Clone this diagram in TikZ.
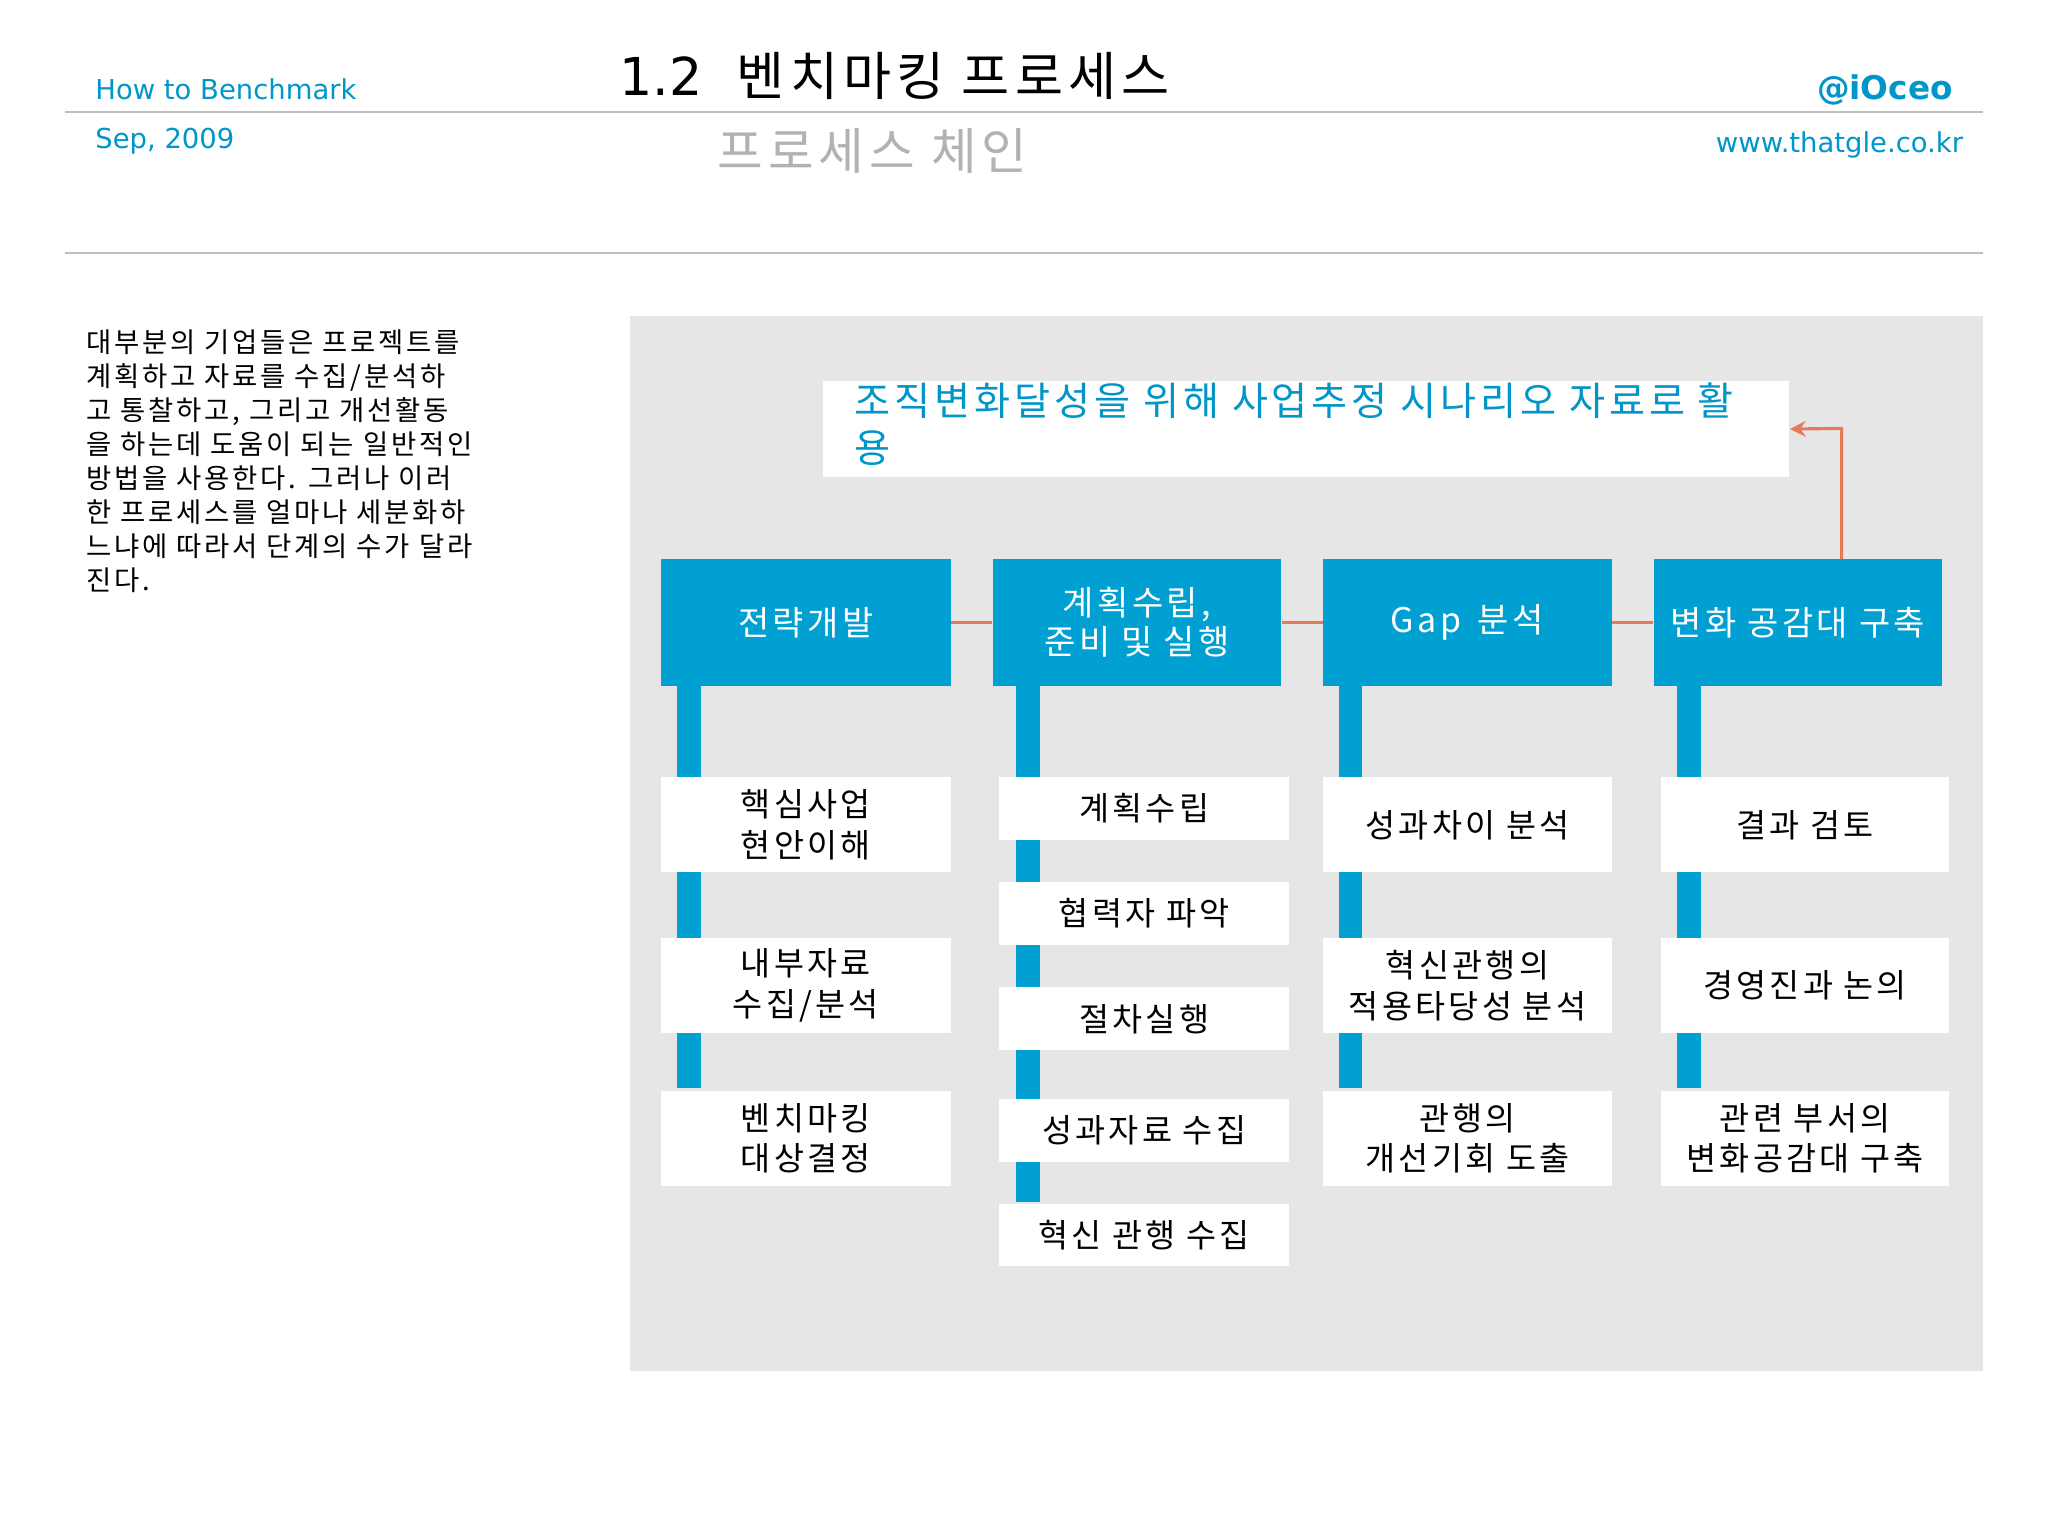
\documentclass[tikz,border=0pt]{standalone}
\usepackage{fontspec}
\setmainfont{Noto Sans CJK KR}
\newfontfamily\lat{DejaVu Sans}
\newfontfamily\wide[LetterSpace=10]{Noto Sans CJK KR}
\usetikzlibrary{arrows.meta}
\definecolor{hblue}{RGB}{0,150,200}
\definecolor{bblue}{RGB}{0,160,210}
\definecolor{panel}{RGB}{231,230,230}
\definecolor{org}{RGB}{232,120,90}
\tikzset{
 head/.style={fill=bblue,text=white,font=\wide\fontsize{13}{15}\selectfont,align=center,inner sep=0},
 sub/.style={fill=white,text=black,font=\wide\fontsize{12.5}{15.5}\selectfont,align=center,inner sep=0},
 bar/.style={fill=bblue},
 link/.style={draw=org,line width=1.2pt}
}
\begin{document}
\begin{tikzpicture}[x=0.5pt,y=-0.5pt]
\useasboundingbox (0,0) rectangle (1568,1176);
\fill[white] (0,0) rectangle (1568,1176);
% header
\node[anchor=base west,text=hblue,font=\lat\fontsize{10.5}{13}\selectfont] (h1) at (66,76) {How to Benchmark};
\node[anchor=base west,text=hblue,font=\lat\fontsize{10.5}{13}\selectfont] (h2) at (66,114) {Sep, 2009};
\node[anchor=base,font=\fontsize{20}{24}\selectfont] (t) at (685,73) {\lat 1.2\,\, \wide 벤치마킹 프로세스};
\node[anchor=base,text=black!30,font=\wide\fontsize{19}{23}\selectfont] (st) at (668,130) {프로세스 체인};
\node[anchor=base east,text=hblue,font=\lat\bfseries\fontsize{12.5}{15}\selectfont] (at) at (1502,76) {@iOceo};
\node[anchor=base east,text=hblue,font=\lat\fontsize{10.5}{13}\selectfont] (w) at (1510,117) {www.thatgle.co.kr};
\draw[black!25,line width=0.8pt] (50,86) -- (1518,86);
\draw[black!25,line width=0.8pt] (50,194) -- (1518,194);
% paragraph
\node[anchor=north west,align=left,inner sep=0,font=\wide\fontsize{10.5}{13}\selectfont] (p) at (66,252) {대부분의 기업들은 프로젝트를\\계획하고 자료를 수집/분석하\\고 통찰하고, 그리고 개선활동\\을 하는데 도움이 되는 일반적인\\방법을 사용한다. 그러나 이러\\한 프로세스를 얼마나 세분화하\\느냐에 따라서 단계의 수가 달라\\진다.};
% panel
\fill[panel] (482,242) rectangle (1518,1050);
\node[fill=white,minimum width=370pt,minimum height=36.5pt,inner sep=0] (goal) at (1000,328.5) {};
\node[anchor=north west,text=hblue,align=left,inner sep=0,font=\wide\fontsize{15}{18}\selectfont] at (654,293) {조직변화달성을 위해 사업추정 시나리오 자료로 활\\용};
% bars
\fill[bar] (518,525) rectangle (537,833);
\fill[bar] (778,525) rectangle (796,920);
\fill[bar] (1025,525) rectangle (1043,833);
\fill[bar] (1284,525) rectangle (1302,833);
% heads
\node[head,minimum width=111pt,minimum height=48.5pt] (a) at (617,476.5) {전략개발};
\node[head,minimum width=110.5pt,minimum height=48.5pt] (b) at (870.5,476.5) {계획수립,\\준비 및 실행};
\node[head,minimum width=110.5pt,minimum height=48.5pt] (c) at (1123.5,476.5) {Gap\, 분석};
\node[head,minimum width=110.5pt,minimum height=48.5pt] (d) at (1376.5,476.5) {변화 공감대 구축};
\draw[link] (a.east) -- (b.west);
\draw[link] (b.east) -- (c.west);
\draw[link] (c.east) -- (d.west);
\coordinate (k) at (1410,328);
\draw[link,-{Stealth[length=6pt,width=6pt]}] (1410,428) -- (k) -- (goal.east);
% column 1
\tikzset{c1/.style={sub,minimum width=111pt,minimum height=36.5pt}}
\node[c1] (a1) at (617,631.5) {핵심사업\\현안이해};
\node[c1] (a2) at (617,754.5) {내부자료\\수집/분석};
\node[c1] (a3) at (617,871.5) {벤치마킹\\대상결정};
% column 2
\tikzset{c2/.style={sub,minimum width=111pt,minimum height=24pt}}
\node[c2] (b1) at (876,619) {계획수립};
\node[c2] (b2) at (876,699.5) {협력자 파악};
\node[c2] (b3) at (876,780) {절차실행};
\node[c2] (b4) at (876,865.5) {성과자료 수집};
\node[c2] (b5) at (876,945.5) {혁신 관행 수집};
% column 3
\tikzset{c3/.style={sub,minimum width=110.5pt,minimum height=36.5pt}}
\node[c3] (c1) at (1123.5,631.5) {성과차이 분석};
\node[c3] (c2) at (1123.5,754.5) {혁신관행의\\적용타당성 분석};
\node[c3] (c3) at (1123.5,871.5) {관행의\\개선기회 도출};
% column 4
\node[c3] (d1) at (1382,631.5) {결과 검토};
\node[c3] (d2) at (1382,754.5) {경영진과 논의};
\node[c3] (d3) at (1382,871.5) {관련 부서의\\변화공감대 구축};
\end{tikzpicture}
\end{document}
